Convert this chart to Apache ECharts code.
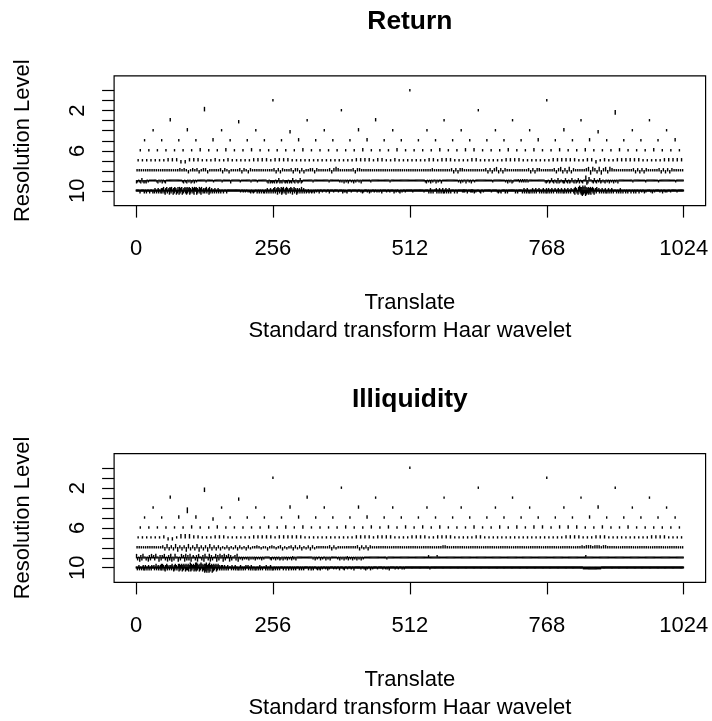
<!DOCTYPE html>
<html><head><meta charset="utf-8">
<script src="https://cdn.jsdelivr.net/npm/echarts@6/dist/echarts.min.js"></script>
<style>html,body{margin:0;padding:0;background:#fff}#chart{width:712px;height:721px}</style>
</head><body><div id="chart"></div>
<script>
// ---------------- data ----------------
const xTickValues = [0, 256, 512, 768, 1024];
const levelTicks = [0, 1, 2, 3, 4, 5, 6, 7, 8, 9, 10];
const levelLabels = [2, 6, 10];
const panelTitles = ['Return', 'Illiquidity'];
const xAxisTitle = 'Translate';
const subTitle = 'Standard transform Haar wavelet';
const yAxisTitle = 'Resolution Level';

// coefficient heights (in resolution-level units), one code per coefficient
const heightCode = {'0':0.05,'1':0.1,'2':0.2,'3':0.32,'4':0.45,'a':-0.1,'b':-0.2,'c':-0.32,'d':-0.45};

const returnL0 = "1";
const returnL1 = "11";
const returnL2 = "311c";
const returnL3 = "2b121111";
const returnL4 = "1211b12111112b11";
const returnL5 = "1111 2111 1211 1211 1111 1112 1121 1112";
const returnL6 = "1111 1112 1121 1211 1112 1111 1121 1121 1112 1122 1112 1121 1211 2111 2111 2111";
const returnL7 = "1111111222bb2221 1121121111122221 2222111111111111 1112222122112111 1111221222111122 1111112222111111 1222222112 2b1211 2222221111122222";
const returnL8 = "1111111111111111 11112121b1212b12 2b111112b21b1111 2b21b21111111111 2b2b21112b22b2b1 122b2111112b2321 111112b221111111 1111111111111111 1111111111211111 1112b2b221111111 1112b2b23b2b2111 11111112b2b22111 1112b23b2b3b2111 1123c32b3c23b321 111111112b2b2b21 11112b2b2b211111";
const returnL9 = "ba0ab2abab0a0000 000ab0a0b0ab0000 00000000000ab0ab 0a0ba0b0a0000000 0a000000a0000000 a0000000b0000000 0a000000000a0000 0a00000000ab0bab ab0ba2bab0abab0b ab2ab0aba2ba0000 00000a0000000000 0000a000000000a0 a0b0a0b00a0b0a00 a0b00000000a0000 0000000000000a00 0000000000000000 00000000000000ab 0a0b0a00b0a00b00 0000000000000a0b 0a00b00a0b00a000 0000000000000a00 000000000a0b0a0b a00001a1a1a1a1a0 00000000000000ab a0ba2ab0ab2ba0ab b2ab0ba2ab0ba2b0 ab004cb300ab2ab0 a2ba0ab0a0b0a0b0 a0b0000000000000 a00000000000a000 00000000a0000000 00000000a0000000";
const returnL10 = "0000000b0000000b 000b00000b00000b 00b200b002b000b2 b203b0c203b002c3 2b300c2b302c0b30 c3b203c0b203b2c3 b203c2b003b2c302 3c2b003b2c300b20 b203b002c3b002b0 00b200b002b000b0 000b00000b000000 0000000000000000 000a0000a000a000 0a00a0b00a0b0a00 00b000b000b000b0 b000b200b002b000 b203b002c302b003 c2b300b2c302b002 b302c003b200c2b0 02b003b002b000b0 0a1b0a00b0a00b00 0a0000b00000a000 000a00000b000000 0a00000000a00000 00b00a00a0b00000 00a0000000000a00 0000a00b0a000000 a000b00a00000a00 00a000a0000b0000 0000a00000a00000 00b000a0000a0b00 0a00000a00000000 00000a0000000000 0000000000a00000 000b002b000b0000 02b000b200b002b0 b002b000b200b000 000b0000b0000000 00a1a1a0000b0000 0a1a1a00b00a0000 00a0b0000a000000 00000000a0000000 000a0b00a0b00000 00b000b000000000 00000b000b000000 00b002b000b200b0 b000b200b002b000 02b000b002b000b2 b002b000b200b002 00b002b000b200b0 b200b002b000b200 00b2c302b0c304b3 c3d4c3b4d3c2b3c2 b3c203b2c002b300 02b000b200b002b0 b002b000b200b000 00b000b002b000b0 000b000b00000b00 00b000b00000b000 0a0000b00a000000 00a00b000a000000 000a0000b0000a00 a000000a00000000 000a000000000000";

const illiqL0 = "1";
const illiqL1 = "11";
const illiqL2 = "c111";
const illiqL3 = "2b211111";
const illiqL4 = "1d11212111111211";
const illiqL5 = "1122b111 12111211 11111111 11211111";
const illiqL6 = "1111112112111112 1212111121121212 1212111211212122 1222112112111111";
const illiqL7 = "1111112bb1333221 1122211111122222 1222222111111111 1112222122221111 2222112222111112 2111111111111111 1111222211122211 1111111122221111";
const illiqL8 = "1111111111112b3b 2b3c2b2c3b2b3c2b 2c3b2b2b1a2b1a2b 2a1b2a1121a11b12 1a12b1a12b2a2b1a 2b2a1111112b2a11 11111112b2a2b211 1111111111111111 1111111111111112 2111111111111111 1111111111111111 1111111111111111 1111111111111111 2122212221221111 1111111111111111 1111111111111111";
const illiqL9 = "3b0c2b300b0c2b30 2b300c2b203b0c2b 3c0b300c0b302c3b 2b3c020b2c300b2c 300b3c2b003c2b30 2c3b203c2b002b3c 0a0b0a0a0b0a0a0b 0a0a0b0a00000ab0 a0b0a0ba0b0a0b0a 0b1a0b0000000000 00000a0b0a00b0a0 0b0a0b000000a0b0 a0b0a1b0a0b0a0b0 a0b0a00000000000 0000000000a00000 0000000000000000 0000000000000000 0200000002000000 0000000000000000 0000000000000000 0000000000000000 0000000000000000 0000000000000000 0000000000000000 0000000000000000 0000000000000000 0000200000000000 0000000000000000 0000000000000000 0000000000000000 0000000000000000 0000000000000000";
const illiqL10 = "00b002b000b002b0 b200b002b000b200 02b003b002b002b3 b302b0c203b200b2 02b300c2b302b003 c3b203c2b302c3b2 b3c204c3b203c2b4 c4b302c3b403c2b3 d3c4d2b3d4c203d2 c3b203c2b302b002 b200b200b002b000 00b200b002b000b0 b002b000b000b200 02b000b200b000b0 b000b002b000b000 00b200b000b200b0 b000b000b000b000 000b0000b0000b00 00b000b000b00000 0b000b000b000000 00b0000b000b0000 0a0b00a0b000a000 00a000b00a000000 0a0000a00000b000 000a0b00000a0000 00a0000b00000000 0000a00000a00b00 a00000b000a00000 000a000000000a00 00a00a000b000000 0000a00000a00000 0a000a0000000000 0000000000000000 0000000000000000 00000a0000000000 0000000000000000 0000000000000000 0000000000000000 0000000000000000 0000000000000000 0000000000000000 0000000000000000 0000000000000000 0000000000000000 0000000000000000 0000000000000000 0000000000000000 0000000000000000 0000000000000000 0000000000000000 0000000000000000 0000000000000000 0000a0a0a0a0a0a0 a0a0a0a0a0a0a0a0 a0a0a00000000000 0000000000000000 0000000000000000 0000000000000000 0000000000000000 0000000000000000 0000000000000000 0000000000000000 0000000000000000 0000000000000000";

const returnLevels = [returnL0, returnL1, returnL2, returnL3, returnL4, returnL5, returnL6, returnL7, returnL8, returnL9, returnL10];
const illiqLevels = [illiqL0, illiqL1, illiqL2, illiqL3, illiqL4, illiqL5, illiqL6, illiqL7, illiqL8, illiqL9, illiqL10];

// ---------------- build ----------------
function decodeLevel(str, n, name) {
  const arr = str.replace(/\s+/g, '').split('').map(c => heightCode[c]);
  if (arr.length !== n) console.warn(name + ' length ' + arr.length + ' expected ' + n);
  return arr.slice(0, n);
}
function buildData(levels, name) {
  const out = [];
  levels.forEach((s, j) => {
    const n = Math.pow(2, j);
    const vals = decodeLevel(s, n, name + j);
    vals.forEach((v, k) => out.push([(k + 0.5) * 1024 / n, j, v]));
  });
  return out;
}
const panelData = [buildData(returnLevels, 'return'), buildData(illiqLevels, 'illiq')];

const FONT = '"Liberation Sans", Arial, sans-serif';
const gridL = 114.1, gridW = 591.5;
const grids = [{top: 75.9, height: 129.7}, {top: 453.6, height: 128.8}];

function renderItem(params, api) {
  const x = api.value(0), lev = api.value(1), h = api.value(2);
  const p0 = api.coord([x, lev]);
  const p1 = api.coord([x, lev - h]);
  return {type: 'line', shape: {x1: p0[0], y1: p0[1], x2: p1[0], y2: p1[1]},
          style: {stroke: '#000', lineWidth: 1.4, lineCap: 'square'}, silent: true};
}

const chart = echarts.init(document.getElementById('chart'), null, {renderer: 'canvas'});
const cx = gridL + gridW / 2;
const graphics = [];
grids.forEach((g, i) => {
  const off = i === 0 ? 0 : 377.3;
  graphics.push({type: 'text', x: cx, y: 22.2 + off, style: {text: panelTitles[i], fontSize: 26.4, fontWeight: 'bold', fontFamily: FONT, fill: '#000', align: 'center', verticalAlign: 'middle'}});
  graphics.push({type: 'text', x: cx, y: 302.5 + off, style: {text: xAxisTitle, fontSize: 22, fontFamily: FONT, fill: '#000', align: 'center', verticalAlign: 'middle'}});
  graphics.push({type: 'text', x: cx, y: 330.8 + off, style: {text: subTitle, fontSize: 22, fontFamily: FONT, fill: '#000', align: 'center', verticalAlign: 'middle'}});
  graphics.push({type: 'text', x: 23, y: g.top + g.height / 2, rotation: Math.PI / 2, style: {text: yAxisTitle, fontSize: 22, fontFamily: FONT, fill: '#000', align: 'center', verticalAlign: 'middle'}});
});

chart.setOption({
  animation: false,
  backgroundColor: '#fff',
  grid: grids.map(g => ({left: gridL, width: gridW, top: g.top, height: g.height, show: true, borderColor: '#000', borderWidth: 1.2, backgroundColor: 'transparent'})),
  xAxis: grids.map((g, i) => ({
    type: 'value', gridIndex: i, min: -40.96, max: 1064.96, position: 'bottom',
    axisLine: {show: false, onZero: false},
    axisTick: {show: true, length: 12, customValues: xTickValues, lineStyle: {color: '#000', width: 1.2}},
    axisLabel: {show: true, customValues: xTickValues, formatter: v => String(v), fontSize: 22, fontFamily: FONT, color: '#000', margin: 32.5},
    splitLine: {show: false}
  })),
  yAxis: grids.map((g, i) => ({
    type: 'value', gridIndex: i, inverse: true, min: -1.48, max: 11.48, position: 'left',
    axisLine: {show: false, onZero: false},
    axisTick: {show: true, length: 12, customValues: levelTicks, lineStyle: {color: '#000', width: 1.2}},
    axisLabel: {show: true, customValues: levelLabels, formatter: v => String(v), rotate: 90, fontSize: 22, fontFamily: FONT, color: '#000', margin: 25.5},
    splitLine: {show: false}
  })),
  series: panelData.map((d, i) => ({
    type: 'custom', xAxisIndex: i, yAxisIndex: i, data: d, renderItem: renderItem,
    progressive: 0, clip: false, silent: true
  })),
  graphic: graphics
});
</script></body></html>
